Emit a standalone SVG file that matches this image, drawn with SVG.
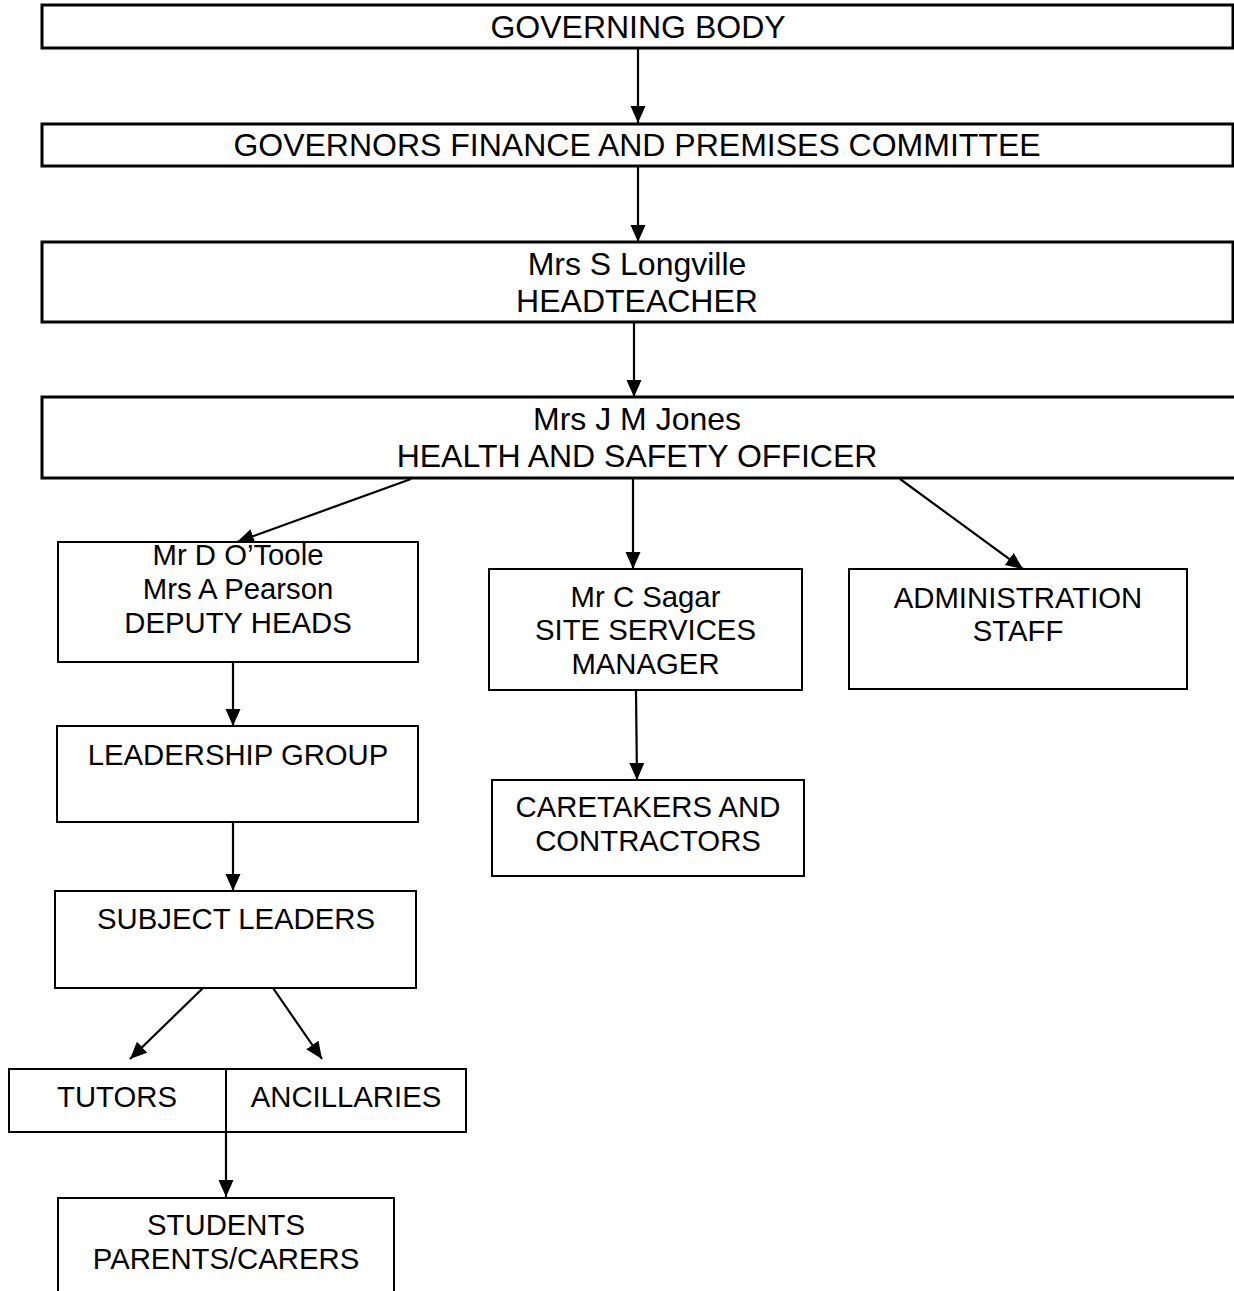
<svg xmlns="http://www.w3.org/2000/svg" width="1234" height="1291" viewBox="0 0 1234 1291">
<style>
.big{fill:#fff;stroke:#000;stroke-width:3}
.box{fill:#fff;stroke:#000;stroke-width:2}
.t{font-family:"Liberation Sans",Arial,sans-serif;fill:#000;text-anchor:middle}
.t1{font-size:32px}
.t2{font-size:29.3px}
.c{stroke:#000;stroke-width:2.2;fill:none;marker-end:url(#ah)}
</style>
<defs>
<marker id="ah" markerUnits="userSpaceOnUse" markerWidth="17" markerHeight="16" refX="17" refY="8" orient="auto">
<path d="M0,0.5 L17,8 L0,15.5 Z" fill="#000"/>
</marker>
</defs>
<rect width="1234" height="1291" fill="#fff"/>
<g id="connectors">
<line class="c" x1="638" y1="49" x2="638" y2="123"/>
<line class="c" x1="638" y1="167" x2="638" y2="242"/>
<line class="c" x1="634" y1="323" x2="634" y2="397"/>
<line class="c" x1="411" y1="479" x2="237" y2="542"/>
<line class="c" x1="633" y1="479" x2="633" y2="569"/>
<line class="c" x1="900" y1="479" x2="1023" y2="569"/>
<line class="c" x1="233" y1="663" x2="233" y2="726"/>
<line class="c" x1="636" y1="691" x2="637" y2="780"/>
<line class="c" x1="233" y1="823" x2="233" y2="891"/>
<line class="c" x1="203" y1="988" x2="130" y2="1059"/>
<line class="c" x1="273" y1="988" x2="322" y2="1059"/>
<line class="c" x1="226" y1="1133" x2="226" y2="1197"/>
</g>
<g id="governing-body">
<rect class="big" x="42" y="5" width="1191" height="43"/>
<text class="t t1" x="638" y="38">GOVERNING BODY</text>
</g>
<g id="finance-committee">
<rect class="big" x="42" y="124" width="1191" height="42"/>
<text class="t t1" x="637" y="156">GOVERNORS FINANCE AND PREMISES COMMITTEE</text>
</g>
<g id="headteacher">
<rect class="big" x="42" y="242" width="1191" height="80"/>
<text class="t t1" x="637" y="275">Mrs S Longville</text>
<text class="t t1" x="637" y="312">HEADTEACHER</text>
</g>
<g id="health-safety">
<rect class="big" x="42" y="397" width="1220" height="81"/>
<text class="t t1" x="637" y="430">Mrs J M Jones</text>
<text class="t t1" x="637" y="467">HEALTH AND SAFETY OFFICER</text>
</g>
<g id="deputy-heads">
<rect class="box" x="58" y="542" width="360" height="120"/>
<text class="t t2" x="238" y="565">Mr D O’Toole</text>
<text class="t t2" x="238" y="599">Mrs A Pearson</text>
<text class="t t2" x="238" y="633">DEPUTY HEADS</text>
</g>
<g id="site-services">
<rect class="box" x="489" y="569" width="313" height="121"/>
<text class="t t2" x="645.5" y="607">Mr C Sagar</text>
<text class="t t2" x="645.5" y="640">SITE SERVICES</text>
<text class="t t2" x="645.5" y="674">MANAGER</text>
</g>
<g id="administration">
<rect class="box" x="849" y="569" width="338" height="120"/>
<text class="t t2" x="1018" y="608">ADMINISTRATION</text>
<text class="t t2" x="1018" y="641">STAFF</text>
</g>
<g id="leadership-group">
<rect class="box" x="57" y="726" width="361" height="96"/>
<text class="t t2" x="238" y="765">LEADERSHIP GROUP</text>
</g>
<g id="caretakers">
<rect class="box" x="492" y="780" width="312" height="96"/>
<text class="t t2" x="648" y="817">CARETAKERS AND</text>
<text class="t t2" x="648" y="851">CONTRACTORS</text>
</g>
<g id="subject-leaders">
<rect class="box" x="55" y="891" width="361" height="97"/>
<text class="t t2" x="236" y="929">SUBJECT LEADERS</text>
</g>
<g id="tutors">
<rect class="box" x="9" y="1069" width="217" height="63"/>
<text class="t t2" x="117" y="1107">TUTORS</text>
</g>
<g id="ancillaries">
<rect class="box" x="226" y="1069" width="240" height="63"/>
<text class="t t2" x="346" y="1107">ANCILLARIES</text>
</g>
<g id="students">
<rect class="box" x="58" y="1198" width="336" height="110"/>
<text class="t t2" x="226" y="1235">STUDENTS</text>
<text class="t t2" x="226" y="1269">PARENTS/CARERS</text>
</g>
</svg>
